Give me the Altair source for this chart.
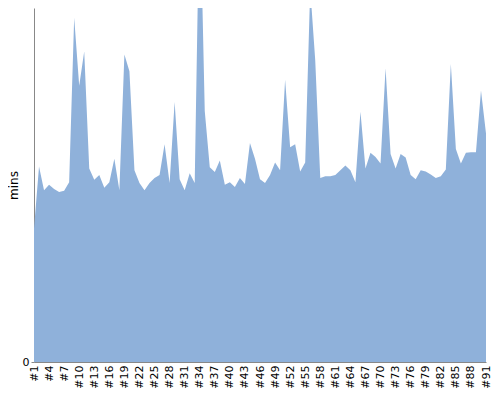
import altair as alt
import pandas as pd

labels = ["#%d" % i for i in range(1, 92)]
mins = [
    22.1, 32.4, 28.5, 29.4, 28.7, 28.2, 28.4, 29.8, 57.1, 45.8,
    51.5, 32.1, 30.2, 31.0, 28.9, 29.8, 33.7, 28.5, 51.0, 48.2,
    31.8, 29.7, 28.5, 29.7, 30.5, 31.0, 36.1, 29.7, 43.1, 30.3,
    28.5, 31.3, 29.7, 79.4, 41.6, 32.3, 31.5, 33.4, 29.4, 29.8,
    29.0, 30.5, 29.5, 36.3, 33.7, 30.3, 29.7, 31.0, 33.1, 31.8,
    46.8, 35.6, 36.1, 31.6, 33.1, 61.9, 50.0, 30.5, 30.8, 30.8,
    31.0, 31.8, 32.6, 31.8, 29.8, 41.5, 32.1, 34.7, 34.0, 32.9,
    48.7, 34.5, 32.1, 34.5, 33.9, 31.0, 30.3, 31.8, 31.6, 31.1,
    30.5, 30.8, 31.9, 49.4, 35.3, 32.9, 34.7, 34.8, 34.8, 45.0,
    37.9,
]
tick_labels = labels[::3]

df = pd.DataFrame({"run": labels, "mins": mins})

chart = alt.Chart(df).mark_area(color="#8fb1da", clip=True).encode(
    x=alt.X("run:N", sort=labels, title=None,
            scale=alt.Scale(type="point", padding=0),
            axis=alt.Axis(values=tick_labels, labelAngle=270, ticks=False,
                          labelOverlap=False, labelBound=False,
                          labelFontSize=11, labelPadding=3, grid=False,
                          domainColor="#888")),
    y=alt.Y("mins:Q", title="mins",
            scale=alt.Scale(domain=[0, 58.7]),
            axis=alt.Axis(values=[0], grid=False, labelFontSize=11,
                          labelPadding=2, tickSize=3, titlePadding=2,
                          titleFontSize=12, titleFontWeight="normal",
                          domainColor="#888", tickColor="#888")),
).properties(
    width=452, height=354,
    autosize=alt.AutoSizeParams(type="none"),
    padding={"left": 26, "top": 0, "right": 6, "bottom": 28},
).configure(font="DejaVu Sans").configure_view(stroke=None)

chart.save("out.html", embed_options={"renderer": "svg", "actions": False})
